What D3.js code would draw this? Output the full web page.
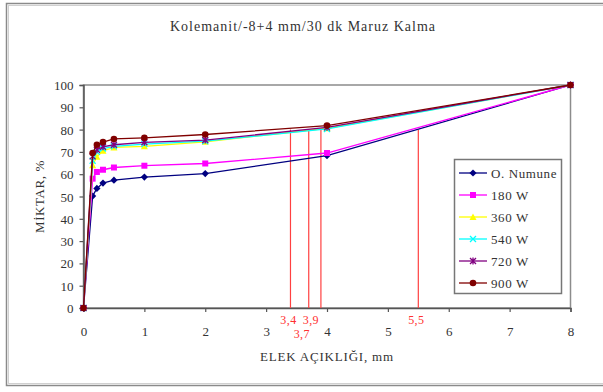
<!DOCTYPE html>
<html>
<head>
<meta charset="utf-8">
<script src="https://cdn.jsdelivr.net/npm/d3@7"></script>
<style>
  html, body { margin: 0; padding: 0; background: #fff; }
  svg { display: block; font-family: "Liberation Serif", "Times New Roman", serif; }
</style>
</head>
<body>
<svg id="chart" width="603" height="392"></svg>
<script>
// Sieve openings (mm) shared by every series
const openings = [0, 0.15, 0.22, 0.32, 0.5, 1, 2, 4, 8];

// Cumulative passing amount (%) per exposure power
const seriesNames = ["O. Numune", "180 W", "360 W", "540 W", "720 W", "900 W"];
const numune = [0, 50.2, 53.6, 56.0, 57.3, 58.7, 60.3, 68.3, 100];
const w180   = [0, 58.0, 61.0, 62.0, 63.0, 63.8, 64.8, 69.5, 100];
const w360   = [0, 64.0, 67.8, 70.5, 72.0, 72.5, 74.5, 80.6, 100];
const w540   = [0, 66.0, 70.0, 71.5, 72.5, 73.5, 74.8, 80.3, 100];
const w720   = [0, 68.0, 71.0, 72.3, 73.2, 74.3, 75.3, 81.0, 100];
const w900   = [0, 69.5, 73.2, 74.4, 75.8, 76.3, 77.8, 81.8, 100];

// d80 reading lines (opening at 80 % passing)
const d80Values = [3.4, 3.7, 3.9, 5.5];
const d80Level = 80;

const xTicks = [0, 1, 2, 3, 4, 5, 6, 7, 8];
const yTicks = [0, 10, 20, 30, 40, 50, 60, 70, 80, 90, 100];

const titleText = "Kolemanit/-8+4 mm/30 dk Maruz Kalma";
const xTitle = "ELEK AÇIKLIĞI, mm";
const yTitle = "MİKTAR, %";

const colors = ["#000080", "#ff00ff", "#ffff00", "#00ffff", "#800080", "#800000"];
const shapes = ["diamond", "square", "triangle", "x", "star", "circle"];
const values = [numune, w180, w360, w540, w720, w900];

const svg = d3.select("#chart");
const W = 603, H = 392;
const plot = { left: 83.5, right: 570.5, top: 85, bottom: 308 };

const x = d3.scaleLinear().domain([0, 8]).range([plot.left, plot.right]);
const y = d3.scaleLinear().domain([0, 100]).range([plot.bottom, plot.top]);

svg.append("rect").attr("width", W).attr("height", H).attr("fill", "#fff");

// chart frame (runs on past the right edge)
svg.append("rect")
  .attr("x", 6.5).attr("y", 3.5).attr("width", 640).attr("height", 382)
  .attr("fill", "none").attr("stroke", "#8a8a8a").attr("stroke-width", 1.5);
svg.append("rect")
  .attr("x", 8.5).attr("y", 5.5).attr("width", 640).attr("height", 378)
  .attr("fill", "none").attr("stroke", "#d0d0d0").attr("stroke-width", 1);

// title
svg.append("text")
  .attr("x", 303).attr("y", 31)
  .attr("text-anchor", "middle")
  .attr("font-size", 14).attr("letter-spacing", 1).attr("fill", "#333")
  .text(titleText);

// plot area border
svg.append("rect")
  .attr("x", plot.left).attr("y", plot.top)
  .attr("width", plot.right - plot.left).attr("height", plot.bottom - plot.top)
  .attr("fill", "none").attr("stroke", "#8c8c8c").attr("stroke-width", 1.5);

// axes
const yAxis = d3.axisLeft(y).tickValues(yTicks).tickSize(4).tickPadding(6).tickFormat(d3.format("d"));
const xAxis = d3.axisBottom(x).tickValues(xTicks).tickSize(4).tickPadding(15).tickFormat(d3.format("d"));

const gy = svg.append("g").attr("transform", `translate(${plot.left},0)`).call(yAxis);
const gx = svg.append("g").attr("transform", `translate(0,${plot.bottom})`).call(xAxis);
[gx, gy].forEach(g => {
  g.selectAll("path").attr("stroke", "#555").attr("stroke-width", 1.5);
  g.selectAll("line").attr("stroke", "#555").attr("stroke-width", 1.2);
  g.selectAll("text").attr("font-family", "Liberation Serif, serif").attr("font-size", 13).attr("fill", "#333");
});
gy.selectAll("text").attr("dy", "0.35em");

// axis titles
svg.append("text")
  .attr("x", (plot.left + plot.right) / 2).attr("y", 361)
  .attr("text-anchor", "middle").attr("font-size", 13).attr("letter-spacing", 0.8).attr("fill", "#333")
  .text(xTitle);
svg.append("text")
  .attr("transform", `translate(44,${(plot.top + plot.bottom) / 2}) rotate(-90)`)
  .attr("text-anchor", "middle").attr("font-size", 13).attr("letter-spacing", 0.6).attr("fill", "#333")
  .text(yTitle);

// d80 guide lines with their labels (labels sit just left of / under each line)
const fmtComma = v => String(v).replace(".", ",");
const labelShift = { 3.4: -2, 3.7: -7, 3.9: -10, 5.5: -2 };
const guides = svg.append("g");
d80Values.forEach(v => {
  guides.append("line")
    .attr("x1", x(v)).attr("x2", x(v))
    .attr("y1", y(0)).attr("y2", y(d80Level))
    .attr("stroke", "#ff4040").attr("stroke-width", 1.2);
  const low = (v === 3.7);
  guides.append("text")
    .attr("x", x(v) + labelShift[v]).attr("y", low ? 338 : 324)
    .attr("text-anchor", "middle")
    .attr("font-size", 12).attr("letter-spacing", 0.4).attr("fill", "#ff3030")
    .text(fmtComma(v));
});

// marker drawing
function marker(g, shape, color, cx, cy) {
  const s = 3;
  if (shape === "diamond") {
    g.append("path").attr("d", `M${cx},${cy - 3.6}L${cx + 3.6},${cy}L${cx},${cy + 3.6}L${cx - 3.6},${cy}Z`)
      .attr("fill", color);
  } else if (shape === "square") {
    g.append("rect").attr("x", cx - 3).attr("y", cy - 3).attr("width", 6).attr("height", 6).attr("fill", color);
  } else if (shape === "triangle") {
    g.append("path").attr("d", `M${cx},${cy - 3.5}L${cx + 3.5},${cy + 3}L${cx - 3.5},${cy + 3}Z`).attr("fill", color);
  } else if (shape === "x") {
    g.append("path").attr("d", `M${cx - s},${cy - s}L${cx + s},${cy + s}M${cx - s},${cy + s}L${cx + s},${cy - s}`)
      .attr("stroke", color).attr("stroke-width", 1.3);
  } else if (shape === "star") {
    g.append("path").attr("d", `M${cx - s},${cy - s}L${cx + s},${cy + s}M${cx - s},${cy + s}L${cx + s},${cy - s}M${cx},${cy - s - 0.5}L${cx},${cy + s + 0.5}`)
      .attr("stroke", color).attr("stroke-width", 1.3);
  } else {
    g.append("circle").attr("cx", cx).attr("cy", cy).attr("r", 3.3).attr("fill", color);
  }
}

// series lines and markers
const line = d3.line().x(d => x(d[0])).y(d => y(d[1]));
const seriesG = svg.append("g");
values.forEach((vals, i) => {
  const pts = openings.map((o, j) => [o, vals[j]]);
  seriesG.append("path").datum(pts)
    .attr("d", line).attr("fill", "none")
    .attr("stroke", colors[i]).attr("stroke-width", 1.3);
  const mg = seriesG.append("g");
  pts.forEach(p => marker(mg, shapes[i], colors[i], x(p[0]), y(p[1])));
});

// legend
const lg = svg.append("g");
lg.append("rect")
  .attr("x", 454.5).attr("y", 159.5).attr("width", 107).attr("height", 134)
  .attr("fill", "#fff").attr("stroke", "#777").attr("stroke-width", 1.5);
seriesNames.forEach((name, i) => {
  const ly = 173 + i * 22;
  lg.append("line").attr("x1", 459).attr("x2", 487).attr("y1", ly).attr("y2", ly)
    .attr("stroke", colors[i]).attr("stroke-width", 1.3);
  marker(lg, shapes[i], colors[i], 473, ly);
  lg.append("text").attr("x", 491).attr("y", ly).attr("dy", "0.35em")
    .attr("font-size", 13).attr("letter-spacing", 0.6).attr("fill", "#333").text(name);
});
</script>
</body>
</html>
